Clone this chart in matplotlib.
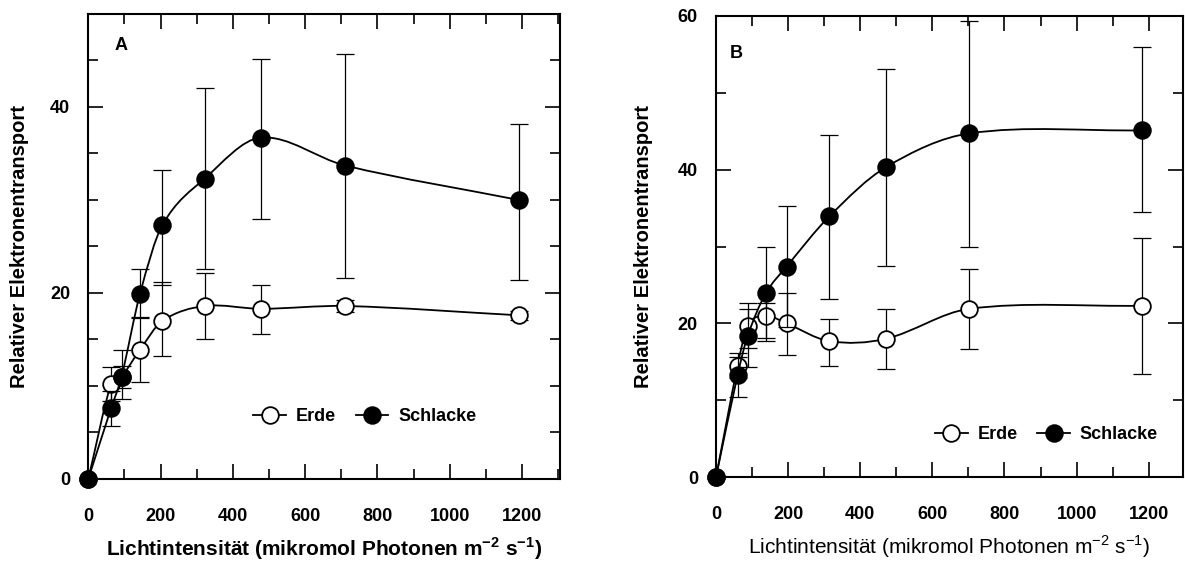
import numpy as np
import matplotlib
matplotlib.use("Agg")
import matplotlib.pyplot as plt
from matplotlib.path import Path
from matplotlib.patches import PathPatch
from matplotlib.lines import Line2D
from matplotlib.ticker import MultipleLocator

plt.rcParams['font.family'] = ['Liberation Sans', 'DejaVu Sans']
plt.rcParams['mathtext.fontset'] = 'custom'
plt.rcParams['mathtext.rm'] = 'Liberation Sans'
plt.rcParams['mathtext.bf'] = 'Liberation Sans:bold'

# Panel A (light intensity, relative electron transport)
light_a = [0, 63, 92, 143, 205, 322, 477, 711, 1191]
erde_a = [0, 10.2, 11.0, 13.9, 17.0, 18.6, 18.3, 18.6, 17.6]
erde_a_hi = [0, 1.8, 1.2, 3.5, 4.2, 3.5, 2.6, 0.6, 0.5]
erde_a_lo = [0, 1.8, 1.2, 3.5, 3.8, 3.5, 2.7, 0.6, 0.5]
schl_a = [0, 7.6, 11.0, 19.9, 27.3, 32.3, 36.7, 33.7, 30.0]
schl_a_hi = [0, 1.9, 2.9, 2.7, 5.9, 9.7, 8.5, 12.0, 8.2]
schl_a_lo = [0, 1.9, 2.4, 2.6, 6.4, 9.7, 8.7, 12.1, 8.6]

# Panel B
light_b = [0, 60, 88, 138, 196, 314, 471, 702, 1180]
erde_b = [0, 14.5, 19.7, 21.0, 20.0, 17.7, 18.0, 21.9, 22.3]
erde_b_hi = [0, 1.6, 2.9, 1.6, 4.0, 2.9, 3.9, 5.2, 8.8]
erde_b_lo = [0, 1.6, 2.9, 3.3, 4.1, 3.2, 3.9, 5.2, 8.9]
schl_b = [0, 13.3, 18.4, 23.9, 27.4, 33.9, 40.3, 44.7, 45.1]
schl_b_hi = [0, 2.4, 3.5, 6.0, 7.8, 10.6, 12.8, 14.6, 10.8]
schl_b_lo = [0, 2.8, 4.1, 5.8, 7.8, 10.7, 12.8, 14.8, 10.6]

series_names = ["Erde", "Schlacke"]


def smooth_path(x, y):
    # cubic Hermite through the points, drawn by matplotlib as Bezier segments
    x = np.asarray(x, float)
    y = np.asarray(y, float)
    m = np.empty(len(x))
    m[0] = (y[1] - y[0]) / (x[1] - x[0])
    m[-1] = (y[-1] - y[-2]) / (x[-1] - x[-2])
    m[1:-1] = (y[2:] - y[:-2]) / (x[2:] - x[:-2])
    verts = [(x[0], y[0])]
    codes = [Path.MOVETO]
    for i in range(len(x) - 1):
        h = x[i + 1] - x[i]
        verts += [(x[i] + h / 3, y[i] + m[i] * h / 3),
                  (x[i + 1] - h / 3, y[i + 1] - m[i + 1] * h / 3),
                  (x[i + 1], y[i + 1])]
        codes += [Path.CURVE4] * 3
    return Path(verts, codes)


def draw_series(ax, x, y, lo, hi, filled, z):
    ax.errorbar(x[1:], y[1:], yerr=[lo[1:], hi[1:]], fmt='none', ecolor='black',
                elinewidth=0.9, capsize=6.5, capthick=0.9, zorder=z)
    ax.add_patch(PathPatch(smooth_path(x, y), facecolor='none', edgecolor='black',
                           lw=1.3, zorder=z + 1))
    ax.plot(x, y, ls='none', marker='o', ms=12,
            mfc='black' if filled else 'white', mec='black', mew=1.3,
            clip_on=False, zorder=z + 2)


def style_axes(ax, xmax, ymax, ymajor, yminor, bold_xlabel):
    ax.set_xlim(0, xmax)
    ax.set_ylim(0, ymax)
    ax.xaxis.set_minor_locator(MultipleLocator(100))
    ax.yaxis.set_minor_locator(MultipleLocator(yminor))
    ax.set_xticks(np.arange(0, 1201, 200))
    ax.set_yticks(np.arange(0, ymax + 1, ymajor))
    for s in ax.spines.values():
        s.set_linewidth(1.5)
    ax.tick_params(which='both', direction='in', top=True, right=True, width=1.2)
    ax.tick_params(which='major', length=11)
    ax.tick_params(which='minor', length=7)
    ax.tick_params(axis='x', which='major', pad=21, labelsize=13)
    ax.tick_params(axis='y', which='major', pad=13, labelsize=13)
    for lab in ax.get_xticklabels() + ax.get_yticklabels():
        lab.set_fontweight('bold')
    if bold_xlabel:
        xl = r'Lichtintensität (mikromol Photonen m$^{\mathbf{-2}}$ s$^{\mathbf{-1}}$)'
        w = 'bold'
    else:
        xl = r'Lichtintensität (mikromol Photonen m$^{\mathrm{-2}}$ s$^{\mathrm{-1}}$)'
        w = 'normal'
    ax.set_xlabel(xl, fontsize=15, fontweight=w, va='center')
    ax.set_ylabel('Relativer Elektronentransport', fontsize=14.5, fontweight='bold', va='center')


fig = plt.figure(figsize=(11.85, 5.61), dpi=100)
ax_a = fig.add_axes([0.0745, 0.1462, 0.3981, 0.8289])
ax_b = fig.add_axes([0.6042, 0.1492, 0.3941, 0.8228])

draw_series(ax_a, light_a, erde_a, erde_a_lo, erde_a_hi, False, 2)
draw_series(ax_a, light_a, schl_a, schl_a_lo, schl_a_hi, True, 5)
draw_series(ax_b, light_b, erde_b, erde_b_lo, erde_b_hi, False, 2)
draw_series(ax_b, light_b, schl_b, schl_b_lo, schl_b_hi, True, 5)

style_axes(ax_a, 1305, 50, 20, 5, True)
style_axes(ax_b, 1295, 60, 20, 10, False)

ax_a.xaxis.set_label_coords(0.5, -0.150)
ax_a.yaxis.set_label_coords(-0.145, 0.5)
ax_b.xaxis.set_label_coords(0.5, -0.150)
ax_b.yaxis.set_label_coords(-0.155, 0.5)

ax_a.text(0.069, 0.933, 'A', transform=ax_a.transAxes, fontsize=13,
          fontweight='bold', ha='center', va='center')
ax_b.text(0.044, 0.918, 'B', transform=ax_b.transAxes, fontsize=13,
          fontweight='bold', ha='center', va='center')

handles = [Line2D([], [], color='black', lw=1.3, marker='o', ms=12, mfc=fc,
                  mec='black', mew=1.3) for fc in ('white', 'black')]
for ax, anchor in ((ax_a, (0.35, 0.134)), (ax_b, (0.469, 0.093))):
    leg = ax.legend(handles, series_names, loc='center left', bbox_to_anchor=anchor,
                    ncol=2, frameon=False, borderpad=0, borderaxespad=0,
                    handlelength=1.8, handletextpad=0.55, columnspacing=1.1,
                    prop={'size': 13, 'weight': 'bold'})

fig.savefig('out.png', dpi=100)
